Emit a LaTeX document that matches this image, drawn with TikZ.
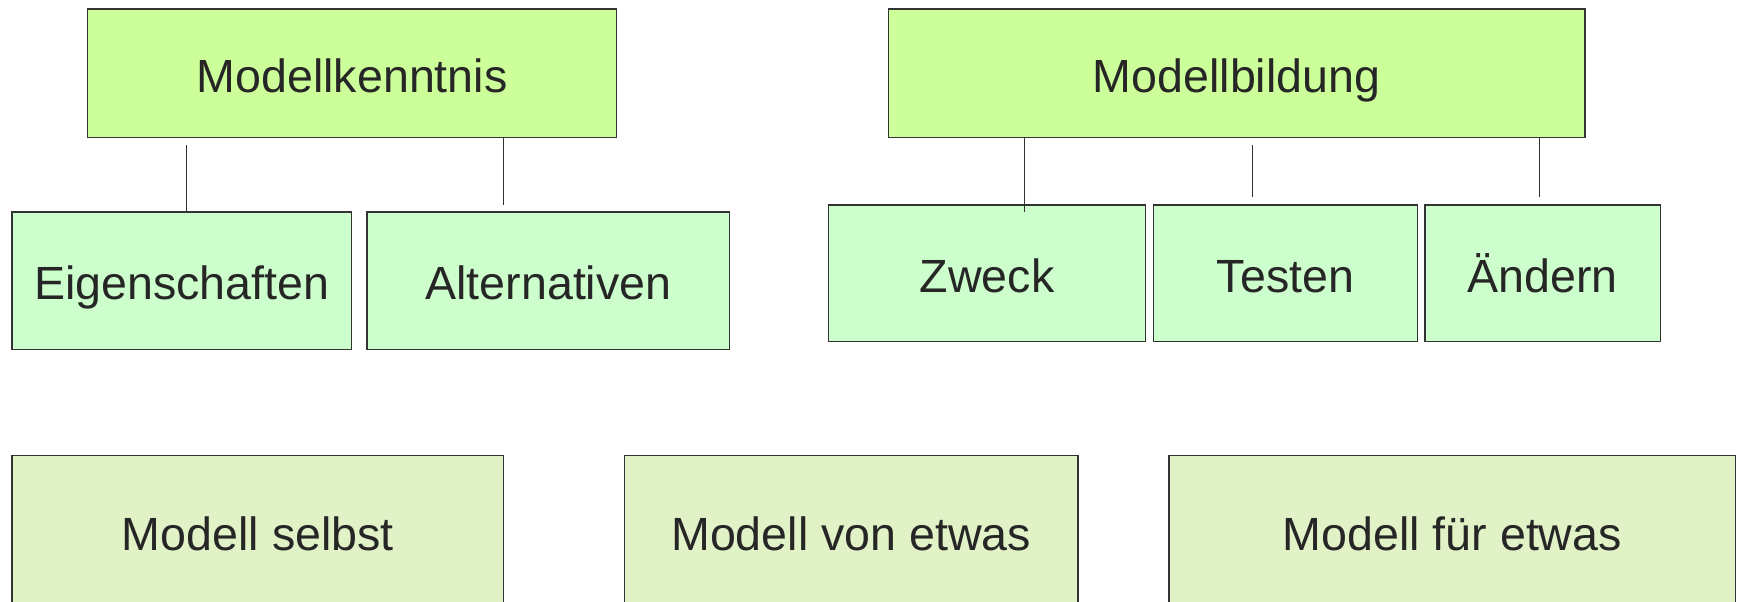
\documentclass[tikz,border=0pt]{standalone}
\usepackage{fontspec}
\setmainfont{Liberation Sans}
\definecolor{topfill}{HTML}{CCFF99}
\definecolor{subfill}{HTML}{CCFFCC}
\definecolor{botfill}{HTML}{E0F2C6}
\definecolor{edge}{HTML}{333333}
\definecolor{ink}{HTML}{262626}
\tikzset{
  lbl/.style={text=ink, inner sep=0pt, text height=34pt, text depth=0pt,
    font=\fontsize{42}{50}\selectfont},
  box/.style={lbl, draw=edge, line width=1.3pt, rectangle},
  topbox/.style={box, fill=topfill},
  subbox/.style={box, fill=subfill},
  botbox/.style={box, fill=botfill},
  link/.style={draw=edge, line width=1pt}
}
\begin{document}
\begin{tikzpicture}[x=1pt,y=-1pt]
\useasboundingbox (0,0) rectangle (1568,542);
\begin{scope}
\clip (0,0) rectangle (1568,542);
% top row
\node[topbox, minimum width=477, minimum height=116] (MK) at (317.5,66) {Modellkenntnis};
\node[topbox, minimum width=628, minimum height=116] (MB) at (1115,66) {Modellbildung};
% second row
\node[subbox, minimum width=306, minimum height=124] (EI) at (164,253) {Eigenschaften};
\node[subbox, minimum width=327, minimum height=124] (AL) at (494.5,253) {Alternativen};
\node[subbox, minimum width=286, minimum height=123] (ZW) at (890,246.5) {Zweck};
\node[subbox, minimum width=238, minimum height=123] (TE) at (1159,246.5) {Testen};
\node[subbox, minimum width=212, minimum height=123] (AE) at (1391,246.5) {Ändern};
% bottom row
\node[botbox, minimum width=443, minimum height=150, anchor=north] (MS) at (232.5,410) {};
\node[botbox, minimum width=409, minimum height=150, anchor=north] (MV) at (767.5,410) {};
\node[botbox, minimum width=511, minimum height=150, anchor=north] (MF) at (1309.5,410) {};
\node[lbl] (MSt) at (232.5,479) {Modell selbst};
\node[lbl] (MVt) at (767.5,479) {Modell von etwas};
\node[lbl] (MFt) at (1309.5,479) {Modell für etwas};
% connectors
\coordinate (c1) at (168,131);
\draw[link] (c1) -- (c1 |- EI.north);
\coordinate (c2) at (454,185);
\draw[link] (c2 |- MK.south) -- (c2);
\coordinate (c3) at (924,191);
\draw[link] (c3 |- MB.south) -- (c3);
\coordinate (c4a) at (1129,131);
\coordinate (c4b) at (1129,178);
\draw[link] (c4a) -- (c4b);
\coordinate (c5) at (1388,178);
\draw[link] (c5 |- MB.south) -- (c5);
\end{scope}
\end{tikzpicture}
\end{document}
